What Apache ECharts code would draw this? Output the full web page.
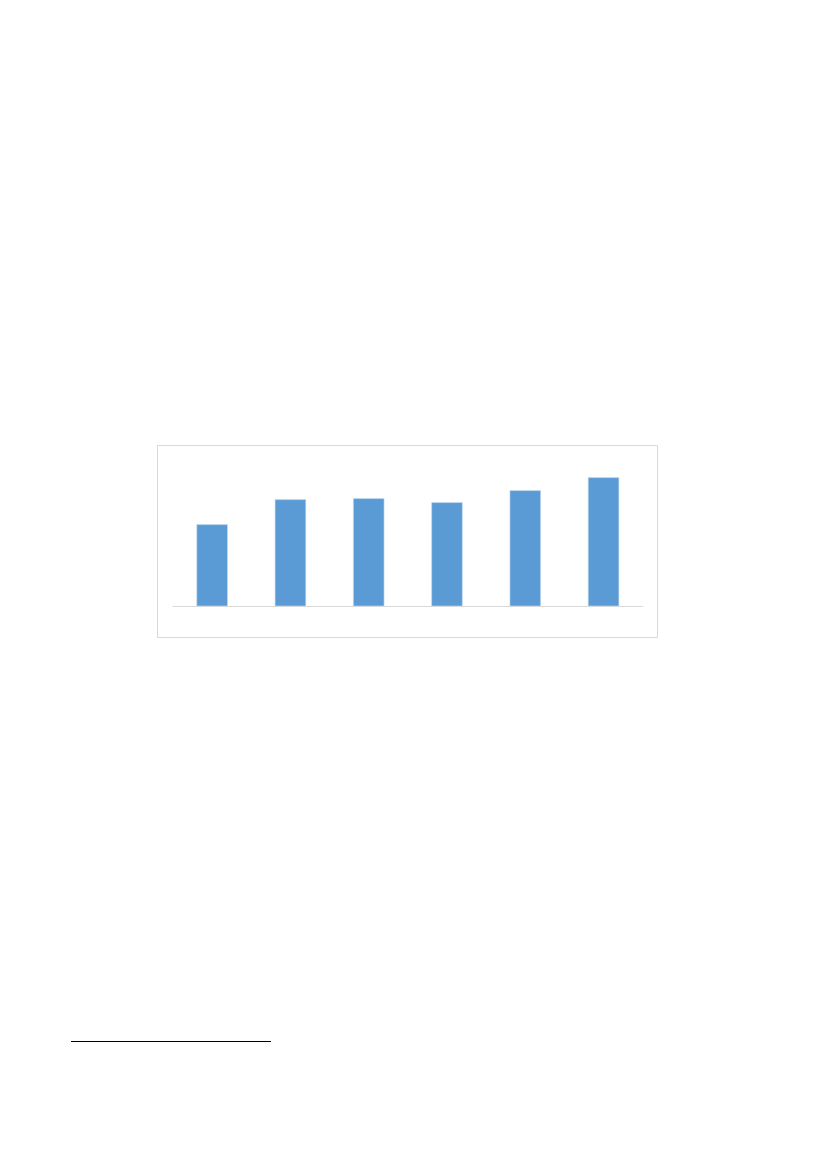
<!DOCTYPE html>
<html>
<head>
<meta charset="utf-8">
<script src="https://cdn.jsdelivr.net/npm/echarts@6/dist/echarts.min.js"></script>
<style>
  html, body { margin: 0; padding: 0; background: #fff; }
  #main { width: 827px; height: 1169px; }
</style>
</head>
<body>
<div id="main"></div>
<script>
// values (no axis labels in the picture)
const categories = ['1', '2', '3', '4', '5', '6'];
const values = [82, 107, 108, 104, 116, 129];
const yMax = 150;

const chart = echarts.init(document.getElementById('main'), null, { renderer: 'canvas' });

chart.setOption({
  animation: false,
  backgroundColor: '#ffffff',
  grid: { left: 173, right: 184.3, top: 456.3, bottom: 562.7 },
  xAxis: {
    type: 'category',
    data: categories,
    axisLine: { lineStyle: { color: '#d9d9d9', width: 1 } },
    axisTick: { show: false },
    axisLabel: { show: false }
  },
  yAxis: {
    type: 'value',
    min: 0,
    max: yMax,
    axisLine: { show: false },
    axisTick: { show: false },
    axisLabel: { show: false },
    splitLine: { show: false }
  },
  series: [{
    type: 'bar',
    data: values,
    barWidth: '40%',
    itemStyle: { color: '#5b9bd5', borderColor: '#c9ddf0', borderWidth: 0.6 }
  }],
  graphic: [
    {
      // chart area frame
      type: 'rect',
      shape: { x: 157.5, y: 445.5, width: 500, height: 192 },
      style: { fill: 'none', stroke: '#d9d9d9', lineWidth: 1 },
      silent: true
    },
    {
      // footnote separator
      type: 'line',
      shape: { x1: 71, y1: 1041.5, x2: 271, y2: 1041.5 },
      style: { stroke: '#000000', lineWidth: 1 },
      silent: true
    }
  ]
});
</script>
</body>
</html>
